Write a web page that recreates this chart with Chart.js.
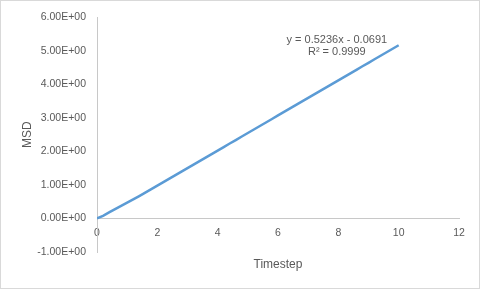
<!DOCTYPE html>
<html>
<head>
<meta charset="utf-8">
<script src="https://cdn.jsdelivr.net/npm/chart.js@4"></script>
<style>
html,body{margin:0;padding:0;background:#fff;}
canvas{display:block;}
</style>
</head>
<body>
<canvas id="c" width="482" height="291"></canvas>
<script>
// Data
const timestep = [0,0.2,0.4,0.6,0.8,1.0,1.2,1.4,1.6,1.8,2.0,2.2,2.4,2.6,2.8,3.0,3.2,3.4,3.6,3.8,4.0,4.2,4.4,4.6,4.8,5.0,5.2,5.4,5.6,5.8,6.0,6.2,6.4,6.6,6.8,7.0,7.2,7.4,7.6,7.8,8.0,8.2,8.4,8.6,8.8,9.0,9.2,9.4,9.6,9.8,10.0];
const msd = [0,0.08,0.18,0.28,0.375,0.47,0.567,0.667,0.769,0.873,0.978,1.083,1.187,1.292,1.397,1.502,1.606,1.711,1.816,1.920,2.025,2.130,2.235,2.339,2.444,2.549,2.654,2.758,2.863,2.968,3.073,3.177,3.282,3.387,3.491,3.596,3.701,3.806,3.910,4.015,4.120,4.225,4.329,4.434,4.539,4.643,4.748,4.853,4.958,5.062,5.167];
const yTickValues = [-1,0,1,2,3,4,5,6];
const yTickLabels = ['-1.00E+00','0.00E+00','1.00E+00','2.00E+00','3.00E+00','4.00E+00','5.00E+00','6.00E+00'];
const xTickLabels = ['0','2','4','6','8','10','12'];
const trendLines = ['y = 0.5236x - 0.0691', 'R\u00b2 = 0.9999'];
const xTitle = 'Timestep';
const yTitle = 'MSD';

const points = timestep.map((x, i) => ({x: x, y: msd[i]}));
const textColor = '#595959';
const axisColor = '#C8C8C8';

const framePlugin = {
  id: 'frame',
  beforeDraw(chart) {
    const ctx = chart.ctx;
    ctx.save();
    ctx.fillStyle = '#fff';
    ctx.fillRect(0, 0, chart.width, chart.height);
    ctx.strokeStyle = '#D9D9D9';
    ctx.lineWidth = 1;
    ctx.strokeRect(0.5, 0.5, 479, 288);
    ctx.restore();
  },
  afterDatasetsDraw(chart) {
    const ctx = chart.ctx;
    const xs = chart.scales.x, ys = chart.scales.y;
    const cx = xs.getPixelForValue(7.95);
    ctx.save();
    ctx.fillStyle = textColor;
    ctx.font = '11px "Liberation Sans", Arial, sans-serif';
    ctx.textAlign = 'center';
    ctx.textBaseline = 'middle';
    ctx.fillText(trendLines[0], cx, ys.getPixelForValue(5.32));
    ctx.fillText(trendLines[1], cx, ys.getPixelForValue(4.97));
    ctx.restore();
  }
};

new Chart(document.getElementById('c'), {
  type: 'scatter',
  data: {
    datasets: [{
      data: points,
      showLine: true,
      borderColor: '#5B9BD5',
      backgroundColor: '#5B9BD5',
      borderWidth: 2.5,
      pointRadius: 0,
      tension: 0
    }]
  },
  options: {
    responsive: false,
    animation: false,
    devicePixelRatio: 1,
    layout: { padding: { top: 14, right: 23, bottom: 10, left: 0 } },
    plugins: { legend: { display: false }, tooltip: { enabled: false } },
    scales: {
      x: {
        type: 'linear',
        position: { y: 0 },
        min: 0, max: 12,
        grid: { display: false, drawTicks: false },
        border: { display: true, color: axisColor, width: 1 },
        ticks: {
          stepSize: 2,
          padding: 8,
          color: textColor,
          font: { family: '"Liberation Sans", Arial, sans-serif', size: 10.5 },
          maxRotation: 0,
          callback: (v) => xTickLabels[Math.round(v / 2)] ?? ''
        }
      },
      x2: {
        type: 'linear',
        position: 'bottom',
        grid: { display: false, drawTicks: false },
        border: { display: false },
        ticks: { display: false },
        title: {
          display: true,
          text: xTitle,
          color: textColor,
          font: { family: '"Liberation Sans", Arial, sans-serif', size: 12 },
          padding: { top: 5.8, bottom: 8.8 }
        }
      },
      y: {
        type: 'linear',
        position: 'left',
        min: -1, max: 6,
        grid: { display: false, drawTicks: false },
        border: { display: true, color: axisColor, width: 1 },
        afterFit: (s) => { s.width = 97; },
        ticks: {
          stepSize: 1,
          padding: 11,
          color: textColor,
          font: { family: '"Liberation Sans", Arial, sans-serif', size: 10.5 },
          callback: (v) => { const i = yTickValues.indexOf(Math.round(v)); return i >= 0 ? yTickLabels[i] : ''; }
        },
        title: {
          display: true,
          text: yTitle,
          color: textColor,
          font: { family: '"Liberation Sans", Arial, sans-serif', size: 12 },
          padding: { top: 20, bottom: 0 }
        }
      }
    }
  },
  plugins: [framePlugin]
});
</script>
</body>
</html>
